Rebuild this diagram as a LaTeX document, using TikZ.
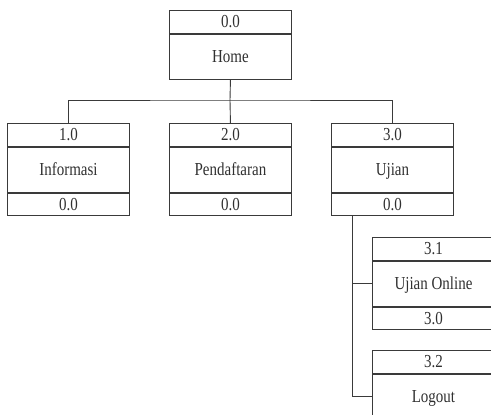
\documentclass[tikz,border=0pt]{standalone}
\usepackage{fontspec}
\setmainfont{Liberation Serif}
\definecolor{linegray}{HTML}{3A3A3A}
\definecolor{textgray}{HTML}{303030}
% labels are set slightly taller than wide, on a common strut
% so that capitals and digits sit centred in each compartment
\newcommand{\tallt}[1]{\scalebox{1}[1.22]{\rule[-0.4pt]{0pt}{10.4pt}#1}}
\tikzset{
  boxpart/.style={draw=linegray, line width=0.9pt, minimum width=122pt,
    inner sep=0pt, text=textgray, font=\fontsize{15}{18}\selectfont,
    text height=12.2pt, text depth=0.5pt},
  numpart/.style={boxpart, minimum height=23pt},
  namepart/.style={boxpart, minimum height=45pt},
  parentpart/.style={boxpart, minimum height=22pt},
  link/.style={draw=linegray, line width=0.9pt}
}
% #1 name, #2 left x, #3 top y, #4 number, #5 title, #6 parent number
\newcommand{\hipobox}[6]{%
  \node[numpart, anchor=north west] (#1-n) at (#2,#3) {\tallt{#4}};
  \node[namepart, anchor=north] (#1) at (#1-n.south) {\tallt{#5}};
  \node[parentpart, anchor=north] (#1-p) at (#1.south) {\tallt{#6}};
}
\begin{document}
\begin{tikzpicture}[x=1pt, y=-1pt]
  \useasboundingbox (0,0) rectangle (491,415);
  \clip (0,0) rectangle (491,415);

  % top level
  \node[numpart, anchor=north west] (home-n) at (169,10) {\tallt{0.0}};
  \node[namepart, anchor=north] (home) at (home-n.south) {\tallt{Home}};

  % first level
  \hipobox{info}{7}{123}{1.0}{Informasi}{0.0}
  \hipobox{daftar}{169}{123}{2.0}{Pendaftaran}{0.0}
  \hipobox{ujian}{331}{123}{3.0}{Ujian}{0.0}

  % second level under Ujian
  \hipobox{online}{372}{237}{3.1}{Ujian Online}{3.0}
  \node[numpart, anchor=north west] (logout-n) at (372,350) {\tallt{3.2}};
  \node[namepart, anchor=north] (logout) at (logout-n.south) {\tallt{Logout}};

  % connectors
  \coordinate (hub) at (230,100);
  \draw[link] (home.south) -- (hub);
  \draw[link] (info-n.north) |- (hub) -| (ujian-n.north);
  \draw[link] (hub) -- (daftar-n.north);

  \coordinate (drop) at ([xshift=21pt]ujian-p.south west);
  \draw[link] (drop) |- (online.west);
  \draw[link] (drop) |- (logout.west);
\end{tikzpicture}
\end{document}
